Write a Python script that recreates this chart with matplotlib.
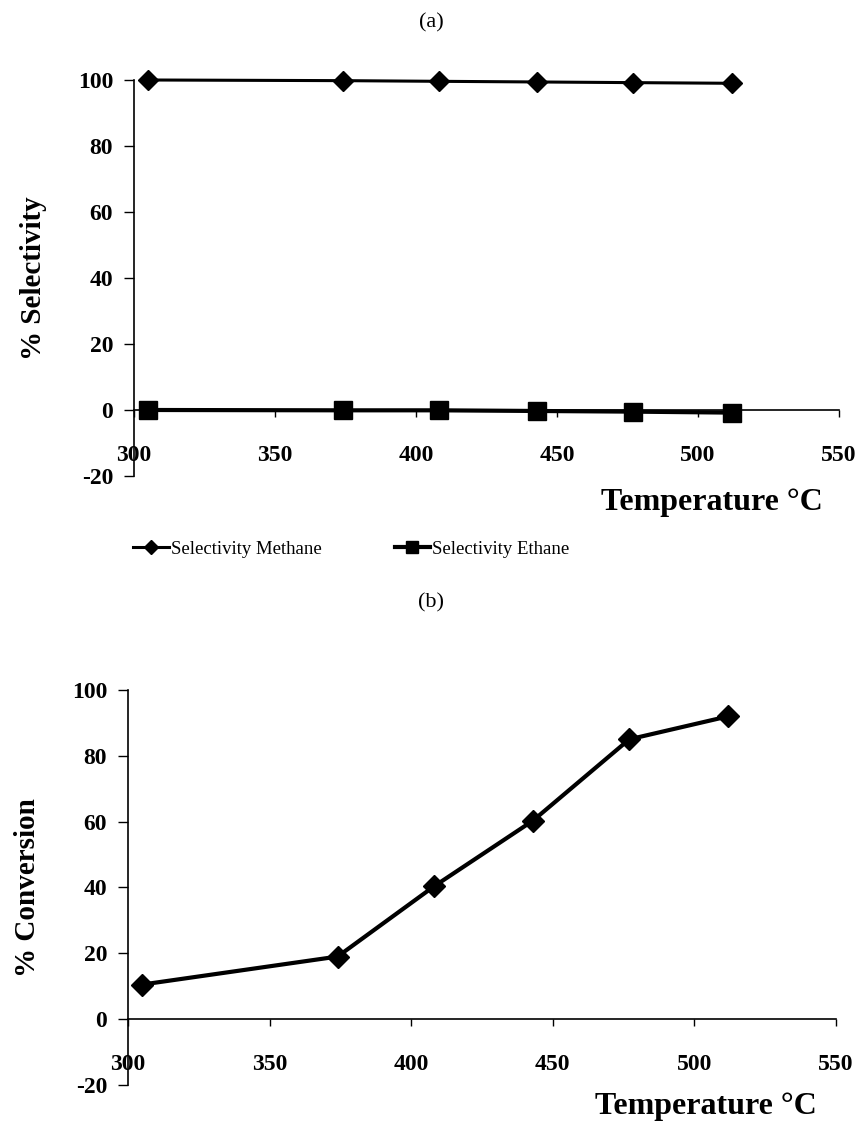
import matplotlib
matplotlib.use("Agg")
import matplotlib.pyplot as plt
from matplotlib.lines import Line2D

plt.rcParams['font.family'] = ['Liberation Serif', 'DejaVu Serif']
plt.rcParams['axes.unicode_minus'] = False

# Reaction temperatures (°C)
temperature = [305, 374, 408, 443, 477, 512]
# Product selectivity (%)
sel_methane = [100, 99.8, 99.6, 99.4, 99.2, 99.0]
sel_ethane = [0.0, -0.1, -0.1, -0.3, -0.5, -0.8]
# CO2 conversion (%)
conversion = [10.5, 19, 40.3, 60.3, 85, 92]

x_ticks = [300, 350, 400, 450, 500, 550]
y_ticks = [-20, 0, 20, 40, 60, 80, 100]

fig = plt.figure(figsize=(8.62, 11.25), dpi=100)
ax_a = fig.add_axes([0.1555, 0.5769, 0.8178, 0.3520])
ax_b = fig.add_axes([0.1485, 0.0356, 0.8213, 0.3511])


def style_axes(ax, ylabel, tx, ty):
    ax.set_xlim(300, 550)
    ax.set_ylim(-20, 100)
    ax.set_xticks(x_ticks)
    ax.set_yticks(y_ticks)
    for s in ('top', 'right'):
        ax.spines[s].set_visible(False)
    ax.spines['bottom'].set_position(('data', 0))
    ax.spines['left'].set_linewidth(1.2)
    ax.spines['bottom'].set_linewidth(1.2)
    ax.tick_params(axis='x', direction='out', length=5, width=1, pad=20,
                   labelsize=17)
    ax.tick_params(axis='y', direction='out', length=7, width=1, pad=8,
                   labelsize=17)
    for lbl in ax.get_xticklabels() + ax.get_yticklabels():
        lbl.set_fontweight('bold')
    ax.set_ylabel(ylabel, fontsize=21, fontweight='bold', labelpad=22)
    ax.text(tx, ty, 'Temperature \u00b0C', transform=ax.transAxes,
            ha='right', va='center', fontsize=23, fontweight='bold')


# (a) selectivity
ax_a.plot(temperature, sel_methane, color='black', lw=2.2, marker='D',
          markersize=10, clip_on=False)
ax_a.plot(temperature, sel_ethane, color='black', lw=3, marker='s',
          markersize=13, clip_on=False)
style_axes(ax_a, '% Selectivity', 0.977, -0.066)
fig.text(0.5, 0.980, '(a)', ha='center', va='center', fontsize=16)

handles = [
    Line2D([], [], color='black', lw=2.2, marker='D', markersize=7),
    Line2D([], [], color='black', lw=3, marker='s', markersize=9),
]
fig.legend(handles, ['Selectivity Methane', 'Selectivity Ethane'],
           loc='center left', bbox_to_anchor=(0.135, 0.512), ncol=2,
           frameon=False, fontsize=13.5, handlelength=1.9, handletextpad=0.1,
           columnspacing=3.9)

# (b) conversion
ax_b.plot(temperature, conversion, color='black', lw=3, marker='D',
          markersize=11, clip_on=False)
style_axes(ax_b, '% Conversion', 0.973, -0.055)
fig.text(0.5, 0.464, '(b)', ha='center', va='center', fontsize=16)

fig.savefig('out.png', dpi=100)
